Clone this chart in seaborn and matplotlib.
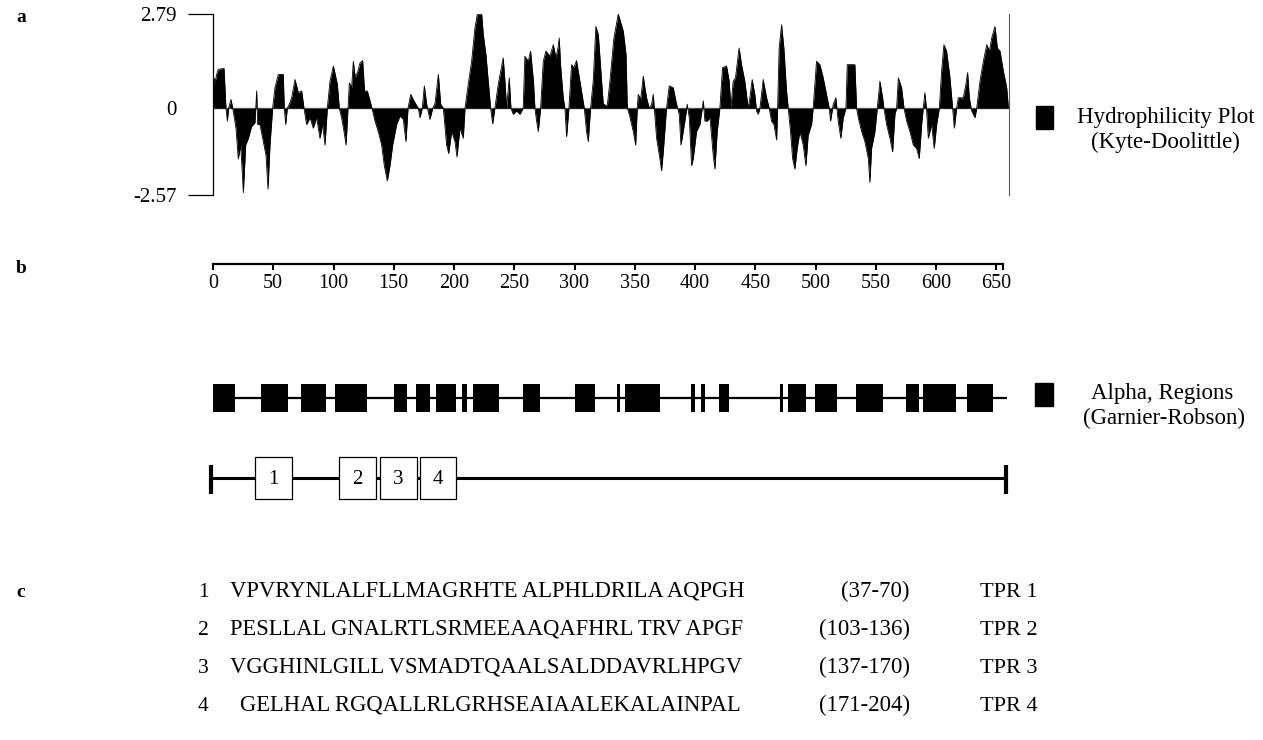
import matplotlib
matplotlib.use("Agg")
import matplotlib.pyplot as plt
import seaborn as sns
import pandas as pd
from matplotlib.patches import Rectangle

# ---------------- data ----------------
hydro_pos = [0, 0.6, 1.9, 3.0, 4.4, 9.1, 10.7, 11.9, 12.9, 14.9, 16.3, 19.0, 20.9, 22.9, 25.1, 27.0,
             29.2, 31.9, 34.7, 36.1, 36.9, 38.8, 41.6, 43.8, 45.5, 47.1, 49.3, 51.2, 54.0, 58.1, 58.9,
             60.1, 61.4, 63.1, 65.0, 67.8, 70.5, 73.3, 75.2, 77.4, 80.2, 82.9, 85.7, 88.4, 90.6, 92.6,
             94.5, 96.7, 99.5, 102.8, 104.4, 106.3, 108.3, 110.0, 111.6, 112.7, 114.6, 116.0, 117.6,
             119.8, 121.5, 123.7, 125.3, 127.6, 129.8, 131.4, 133.9, 136.6, 139.4, 141.6, 144.1, 146.3,
             148.5, 151.8, 154.5, 157.3, 159.5, 161.2, 163.4, 166.9, 169.7, 171.1, 173.0, 174.7, 176.6,
             179.3, 181.6, 183.5, 186.3, 188.2, 190.4, 193.1, 194.8, 197.3, 200.0, 201.7, 204.1, 206.9,
             208.3, 211.0, 213.8, 216.5, 218.5, 222.1, 223.4, 225.6, 227.5, 229.5, 231.2, 233.0, 235.8,
             239.9, 241.3, 242.7, 244.9, 246.3, 248.2, 250.9, 253.7, 256.4, 257.8, 260.6, 262.5, 264.9,
             266.1, 267.5, 268.9, 270.8, 273.0, 275.2, 278.5, 281.3, 283.5, 285.4, 286.2, 287.3, 289.5,
             290.9, 292.3, 294.2, 296.4, 298.3, 300.5, 303.3, 306.9, 308.8, 310.2, 312.1, 314.3, 316.5,
             318.5, 321.2, 322.6, 325.9, 328.1, 331.4, 335.0, 339.2, 341.4, 342.5, 344.1, 347.4, 349.4,
             350.7, 351.5, 353.5, 355.7, 357.0, 358.4, 360.6, 362.6, 363.9, 364.8, 366.7, 369.4, 370.8,
             372.2, 374.9, 377.1, 380.4, 383.2, 385.4, 386.8, 388.7, 390.9, 392.0, 393.7, 395.6, 397.0,
             399.7, 402.5, 405.3, 406.6, 408.6, 410.8, 413.5, 414.9, 416.8, 419.0, 421.2, 424.5, 426.7,
             428.1, 430.0, 431.9, 434.9, 436.9, 439.6, 442.4, 443.8, 445.7, 447.9, 449.3, 450.7, 452.1,
             454.8, 457.6, 459.8, 461.7, 463.7, 465.9, 466.7, 468.0, 470.0, 471.9, 474.1, 475.5, 477.4,
             479.1, 481.0, 482.9, 485.1, 487.9, 490.1, 492.0, 494.8, 496.1, 498.9, 501.7, 504.4, 507.7,
             509.4, 510.5, 512.7, 514.9, 516.8, 519.0, 521.0, 523.2, 524.3, 530.6, 532.0, 533.4, 536.2,
             538.9, 541.7, 543.0, 544.4, 547.2, 549.1, 551.3, 553.5, 554.6, 556.8, 559.6, 561.8, 563.7,
             565.1, 566.5, 569.2, 571.2, 573.4, 576.1, 578.9, 581.6, 583.8, 585.8, 587.1, 588.5, 589.9,
             591.3, 594.0, 596.2, 598.2, 600.4, 602.3, 604.2, 606.4, 609.2, 611.4, 612.8, 614.7, 616.1,
             620.2, 622.4, 623.8, 625.2, 627.1, 629.9, 631.3, 634.0, 636.8, 639.6, 641.8, 643.7, 646.4,
             648.4, 650.6, 653.3, 656.1, 657.5]
hydro_val = [0, 0.9, 0.8, 1.0, 1.15, 1.18, 0, -0.38, 0, 0.26, 0, -0.59, -1.5, -1.09, -2.5, -1.09,
             -0.89, -0.54, -0.43, 0.51, -0.48, -0.48, -0.99, -1.39, -2.4, -1.09, 0, 0.61, 1.0, 1.0, 0,
             -0.48, 0, 0.12, 0.31, 0.85, 0.46, 0.51, 0, -0.48, -0.28, -0.59, -0.28, -0.89, -0.48, -1.09,
             0, 0.8, 1.25, 0.71, 0, -0.28, -0.69, -1.09, 0, 0.75, 0.61, 1.39, 0.9,
             1.1, 1.34, 1.41, 0.51, 0.51, 0.22, 0, -0.38, -0.69, -1.09, -1.7, -2.15, -1.7,
             -1.09, -0.48, -0.23, -0.33, -0.99, 0, 0.41, 0.17, 0, -0.28, 0, 0.66, 0.12,
             -0.33, 0, 0.14, 1.0, 0.12, 0, -1.09, -1.34, -0.69, -0.99, -1.44, -0.59, -0.89,
             0, 0.71, 1.39, 2.37, 2.79, 2.79, 2.18, 1.59, 0.8, 0, -0.46, 0, 0.71,
             1.49, 0.8, 0, 0.9, 0, -0.18, -0.08, -0.18, 0, 1.54, 1.39, 1.69, 0.8,
             0, -0.38, -0.69, 0, 1.39, 1.69, 1.54, 1.88, 1.49, 1.83, 2.08, 1.29, 0.31,
             0, -0.84, 0, 1.29, 1.2, 1.41, 0.8, 0, -0.69, -0.99, 0, 0.8, 2.42,
             2.18, 0.8, 0.12, 0.07, 0.8, 2.08, 2.79, 2.27, 1.59, 0, -0.18, -0.69, -1.09,
             0, 0.41, 0.26, 0.95, 0.61, 0.31, 0, 0.12, 0.41, 0, -0.89, -1.49, -1.85,
             -1.29, 0, 0.66, 0.61, 0.12, -0.18, -1.09, -0.69, -0.18, 0.12, -0.28, -1.7, -1.49,
             -0.69, -0.48, 0.22, -0.38, -0.38, -0.28, -1.39, -1.8, -0.69, 0, 1.2, 1.25, 0.8,
             0, 0.8, 0.9, 1.78, 1.29, 0.8, 0, 0.31, 0.85, 0.41, -0.08, -0.18, 0,
             0.85, 0.31, 0, -0.38, -0.48, -0.94, 0, 1.78, 2.47, 1.78, 0.51, 0, -0.69,
             -1.49, -1.8, -1.19, -0.69, -1.09, -1.7, -0.79, -0.48, 0, 1.39, 1.29, 0.9, 0.31,
             0, -0.38, 0.12, 0.31, -0.38, -0.89, -0.28, 0, 1.29, 1.29, 0, -0.28, -0.69,
             -0.99, -1.49, -2.2, -1.19, -0.69, 0, 0.8, 0.31, 0, -0.48, -0.89, -1.29, -0.18,
             0, 0.9, 0.61, 0, -0.38, -0.69, -1.09, -1.19, -1.49, -0.48, 0, 0.46, -0.08,
             -0.89, -0.48, -1.19, -0.48, 0, 1.1, 1.88, 1.69, 0.9, 0, -0.59, 0, 0.31,
             0.31, 0.71, 1.05, 0.31, -0.08, -0.28, 0, 0.8, 1.39, 1.88, 1.69, 2.08, 2.42,
             1.78, 1.69, 1.1, 0.61, 0]
y_ticks = [2.79, -2.57]
y_tick_labels = ["2.79", "-2.57"]

axis_ticks = [0, 50, 100, 150, 200, 250, 300, 350, 400, 450, 500, 550, 600, 650]
protein_length = 656

alpha_start = [0, 40, 73, 101, 150, 168.5, 185, 207, 216, 257.5, 300, 335, 342, 397, 405, 420,
               470.5, 477.5, 499.5, 534, 575.5, 589.5, 626]
alpha_end = [18, 62.5, 94, 128, 161, 180, 202, 211, 237, 271, 317, 338, 371, 400, 408, 428.5,
             473, 492.5, 517.5, 556, 586, 616.5, 647.5]

tpr_start = [35, 104.5, 138.5, 172]
tpr_end = [65.5, 135, 169, 201.5]
tpr_ids = ["1", "2", "3", "4"]
tpr_seqs = ["VPVRYNLALFLLMAGRHTE ALPHLDRILA AQPGH",
            "PESLLAL GNALRTLSRMEEAAQAFHRL TRV APGF",
            "VGGHINLGILL VSMADTQAALSALDDAVRLHPGV",
            "GELHAL RGQALLRLGRHSEAIAALEKALAINPAL"]
tpr_ranges = ["(37-70)", "(103-136)", "(137-170)", "(171-204)"]
tpr_names = ["TPR 1", "TPR 2", "TPR 3", "TPR 4"]

# ---------------- style ----------------
sns.set_theme(style="white")
plt.rcParams['font.family'] = ['Liberation Serif', 'DejaVu Serif']
plt.rcParams['text.color'] = 'black'

W, H = 1263, 740
PX_PER_RES = 1.205
X0 = 213
fig = plt.figure(figsize=(W / 100, H / 100), dpi=100)


def ax_px(x0, y0, x1, y1):
    a = fig.add_axes([x0 / W, 1 - y1 / H, (x1 - x0) / W, (y1 - y0) / H])
    a.set_facecolor('none')
    return a


def ftext(x, y, s, **kw):
    fig.text(x / W, 1 - y / H, s, **kw)


# ---------------- a: hydrophilicity ----------------
ax_a = ax_px(213, 14, 1009, 195)
df = pd.DataFrame({'pos': hydro_pos, 'val': hydro_val})
ax_a.fill_between(df['pos'], 0, df['val'], color='black', lw=0)
sns.lineplot(data=df, x='pos', y='val', ax=ax_a, color='black', lw=0.6,
             sort=False, estimator=None)
ax_a.axhline(0, color='0.45', lw=1.0, zorder=0)
ax_a.set_xlim(0, 658)
ax_a.set_ylim(-2.57, 2.79)
for s in ['top', 'bottom']:
    ax_a.spines[s].set_visible(False)
ax_a.spines['left'].set_color('black')
ax_a.spines['left'].set_linewidth(0.9)
ax_a.spines['right'].set_color('0.35')
ax_a.spines['right'].set_linewidth(0.8)
ax_a.set_xticks([])
ax_a.set_yticks(y_ticks)
ax_a.set_yticklabels(y_tick_labels)
ax_a.tick_params(axis='y', which='major', left=True, direction='out', length=18,
                 width=0.9, color='black', pad=8, labelsize=15, labelcolor='black')
ax_a.set_yticks([0], minor=True)
ax_a.set_yticklabels(['0'], minor=True)
ax_a.tick_params(axis='y', which='minor', left=True, length=0, pad=26, labelsize=15,
                 labelcolor='black')
ax_a.set_xlabel('')
ax_a.set_ylabel('')

# ---------------- b: residue axis ----------------
ax_b = ax_px(X0, 250, X0 + protein_length * PX_PER_RES, 264)
ax_b.set_xlim(0, protein_length)
for s in ['top', 'left', 'right']:
    ax_b.spines[s].set_visible(False)
ax_b.spines['bottom'].set_color('black')
ax_b.spines['bottom'].set_linewidth(1.6)
ax_b.set_yticks([])
ax_b.set_xticks(axis_ticks)
ax_b.set_xticklabels([str(t) for t in axis_ticks])
ax_b.set_xticks([protein_length], minor=True)
ax_b.tick_params(axis='x', which='both', bottom=True, direction='out', length=4.5,
                 width=1.5, color='black', pad=3, labelsize=14.5, labelcolor='black')

# ---------------- alpha regions & TPR boxes ----------------
RX0, RX1 = 200, 1015
ax_r = ax_px(RX0, 370, RX1, 510)
ax_r.set_xlim((RX0 - X0) / PX_PER_RES, (RX1 - X0) / PX_PER_RES)
ax_r.set_ylim(510, 370)
ax_r.axis('off')

alpha_y, alpha_h = 398, 28
ax_r.hlines(alpha_y, 0, 659, color='black', lw=1.6)
ax_r.bar(x=alpha_start, height=alpha_h, width=[e - s for s, e in zip(alpha_start, alpha_end)],
         bottom=alpha_y - alpha_h / 2, align='edge', color='black', lw=0)

tpr_y, tpr_h = 478, 42
ax_r.hlines(tpr_y, -2, 658.5, color='black', lw=2.2)
ax_r.vlines([-2, 658.5], tpr_y - 13, tpr_y + 16, color='black', lw=3)
ax_r.bar(x=tpr_start, height=tpr_h, width=[e - s for s, e in zip(tpr_start, tpr_end)],
         bottom=tpr_y - tpr_h / 2, align='edge', facecolor='white', edgecolor='black',
         lw=0.9, zorder=3)
for s, e, lab in zip(tpr_start, tpr_end, tpr_ids):
    ax_r.text((s + e) / 2, tpr_y + 6, lab, ha='center', va='baseline', fontsize=15, zorder=4)

# ---------------- legends ----------------
fig.add_artist(Rectangle((1036 / W, 1 - 129 / H), 17 / W, 23 / H,
                         transform=fig.transFigure, color='black'))
ftext(1166, 118, "Hydrophilicity Plot", ha='center', va='center', fontsize=16.5)
ftext(1165, 142, "(Kyte-Doolittle)", ha='center', va='center', fontsize=16.5)
fig.add_artist(Rectangle((1035 / W, 1 - 406 / H), 18 / W, 23 / H,
                         transform=fig.transFigure, color='black'))
ftext(1162, 394, "Alpha, Regions", ha='center', va='center', fontsize=16.5)
ftext(1164, 418, "(Garnier-Robson)", ha='center', va='center', fontsize=16.5)

# ---------------- panel labels ----------------
rows_base = [597, 635, 673, 711]
ftext(21, 18, "a", ha='center', va='center', fontsize=14, weight='bold')
ftext(21, 268, "b", ha='center', va='center', fontsize=14, weight='bold')
ftext(21, rows_base[0], "c", ha='center', va='baseline', fontsize=14, weight='bold')

# ---------------- c: TPR sequences ----------------
seq_x = [230, 230, 230, 240]
for i in range(4):
    y = rows_base[i]
    ftext(203, y, tpr_ids[i], ha='center', va='baseline', fontsize=15.5)
    ftext(seq_x[i], y, tpr_seqs[i], ha='left', va='baseline', fontsize=16.3)
    ftext(910, y, tpr_ranges[i], ha='right', va='baseline', fontsize=16.5)
    ftext(980, y, tpr_names[i], ha='left', va='baseline', fontsize=16)

fig.savefig("out.png", dpi=100)
